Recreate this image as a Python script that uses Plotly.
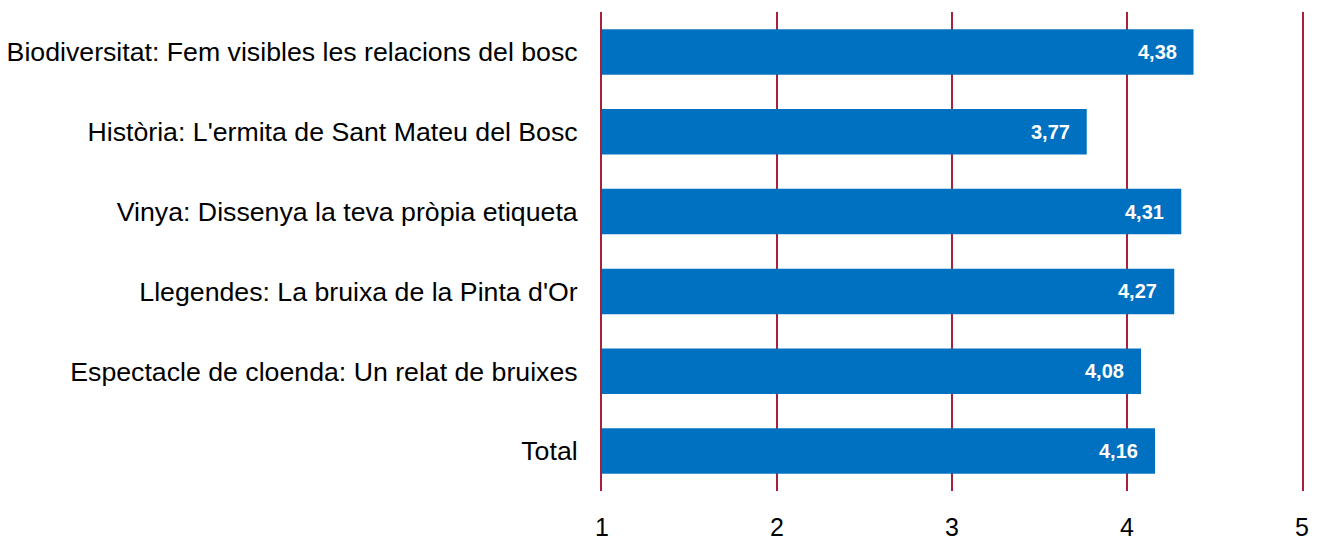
import plotly.graph_objects as go

categories = [
    "Biodiversitat: Fem visibles les relacions del bosc",
    "Història: L'ermita de Sant Mateu del Bosc",
    "Vinya: Dissenya la teva pròpia etiqueta",
    "Llegendes: La bruixa de la Pinta d'Or",
    "Espectacle de cloenda: Un relat de bruixes",
    "Total",
]
values = [4.38, 3.77, 4.31, 4.27, 4.08, 4.16]
x_ticks = [1, 2, 3, 4, 5]

BAR = "#0070C0"
GRID = "#A3233A"
FONT = "Liberation Sans, Arial, sans-serif"

fig = go.Figure()
fig.add_trace(go.Bar(
    x=values, y=categories, orientation="h",
    marker=dict(color=BAR, line=dict(width=0)),
    width=0.57, hoverinfo="skip",
))

annotations = []
for c, v in zip(categories, values):
    annotations.append(dict(
        x=v, y=c, xref="x", yref="y",
        text=f"{v:.2f}".replace(".", ","),
        showarrow=False, xanchor="right", xshift=-15,
        font=dict(family=FONT, size=20, color="white", weight="bold"),
    ))

fig.update_layout(
    width=1322, height=542,
    margin=dict(l=602, r=20, t=12, b=51),
    plot_bgcolor="white", paper_bgcolor="white",
    showlegend=False,
    font=dict(family=FONT, size=26.7, color="black"),
    annotations=annotations,
    xaxis=dict(
        range=[1, 5], tickvals=x_ticks, ticktext=[str(t) for t in x_ticks],
        showgrid=True, gridcolor=GRID, gridwidth=2,
        zeroline=False, showline=False, ticks="",
        ticklabelstandoff=19, automargin=False,
        tickfont=dict(family=FONT, size=25, color="black"),
    ),
    yaxis=dict(
        autorange="reversed", showgrid=False, zeroline=False,
        showline=True, mirror=True, linecolor=GRID, linewidth=2, ticks="",
        ticklabelstandoff=17, automargin=False,
        tickfont=dict(family=FONT, size=26.7, color="black"),
    ),
)

fig.write_html(
    "out.html",
    config={"displayModeBar": False},
    post_script="document.body.style.margin='0';document.body.style.overflow='hidden';",
)
